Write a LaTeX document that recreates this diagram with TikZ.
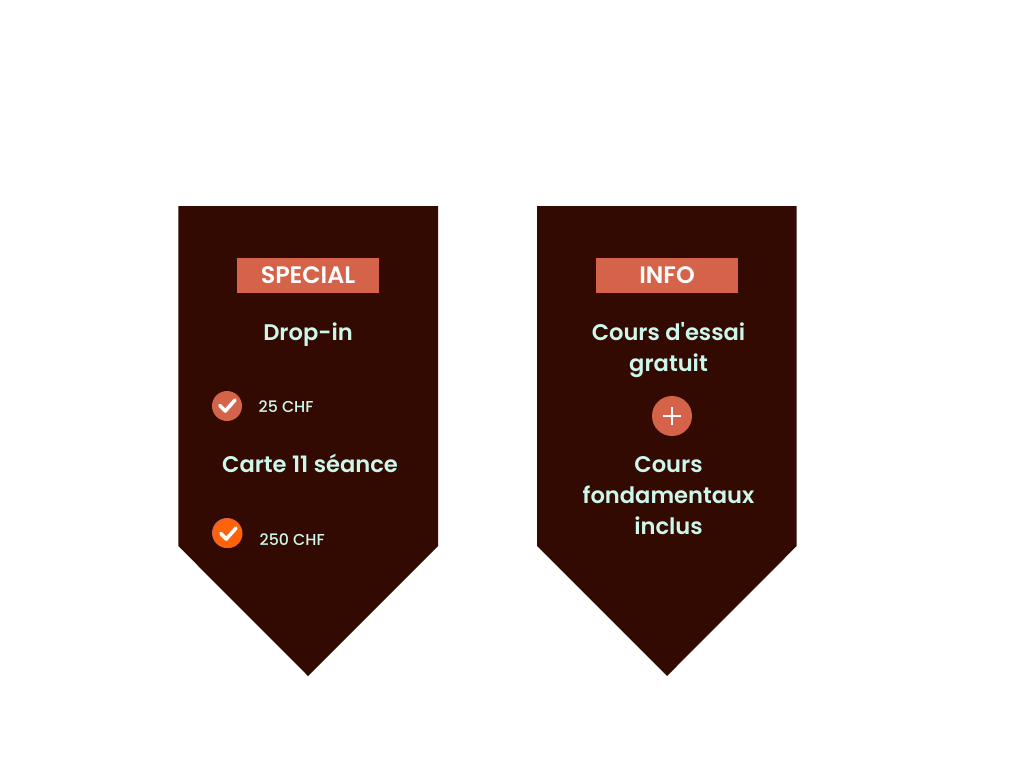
\documentclass[tikz,border=0pt]{standalone}
\usepackage{fontspec}
\setmainfont{Poppins}
\newfontfamily\semi{Poppins SemiBold}
\newfontfamily\medi{Poppins Medium}
\definecolor{panelbrown}{HTML}{330A02}
\definecolor{coral}{HTML}{D5634A}
\definecolor{brightorange}{HTML}{FF6309}
\definecolor{mint}{HTML}{CCF8EC}
\tikzset{
  x=1pt,y=-1pt,
  panel/.style={fill=panelbrown,draw=none},
  badge/.style={fill=coral,draw=none,minimum width=142pt,minimum height=35pt,inner sep=0pt},
  badgetext/.style={text=white,inner sep=0pt,font=\semi\fontsize{23.8}{24}\selectfont},
  head/.style={text=mint,align=center,inner sep=0pt,font=\semi\fontsize{22.6}{31}\selectfont},
  price/.style={text=mint,anchor=west,inner sep=0pt,font=\medi\fontsize{15.8}{18}\selectfont},
  disc/.style={circle,inner sep=0pt,draw=none},
  tick/.style={draw=white,line width=3.6pt,line cap=round,line join=round},
  plusline/.style={draw=white,line width=1.8pt}
}
\begin{document}
\begin{tikzpicture}
\useasboundingbox (0,0) rectangle (1024,768);
\fill[white] (0,0) rectangle (1024,768);
\path[panel] (178.3,206) -- (438,206) -- (438,546) -- (308,676) -- (178.3,546) -- cycle;
\path[panel] (537,206) -- (796.7,206) -- (796.7,546) -- (667,676) -- (537,546) -- cycle;
\node[badge] (special) at (308,275.5) {};
\node[badge] (info) at (667,275.5) {};
\node[badgetext] (specialt) at (308,275.2) {SPECIAL};
\node[badgetext] (infot) at (667,275.2) {INFO};
\node[head] (dropin) at (308,335) {Drop-in};
\node[head] (carte) at (310,463) {Carte 11 séance};
\node[head] (essai) at (668.5,350) {Cours d'essai\\gratuit};
\node[head] (fond) at (668.5,496) {Cours\\fondamentaux\\inclus};
\node[disc,fill=coral,minimum size=30pt] (c1) at (227,406) {};
\node[disc,fill=coral,minimum size=30pt] (c2) at (227,533) {};
\node[disc,fill=brightorange,minimum size=29pt] (c2b) at (228,533.5) {};
\draw[tick] (219.8,405.5) -- (225.3,411) -- (235,400);
\draw[tick] (220.8,533.5) -- (226.3,539) -- (236,528);
\node[price] (p1) at (258.5,406.5) {25 CHF};
\node[price] (p2) at (259.5,539.5) {250 CHF};
\node[disc,fill=coral,minimum size=40pt] (plus) at (672,416) {};
\draw[plusline] (672,407) -- (672,425);
\draw[plusline] (663,416) -- (681,416);
\end{tikzpicture}
\end{document}
